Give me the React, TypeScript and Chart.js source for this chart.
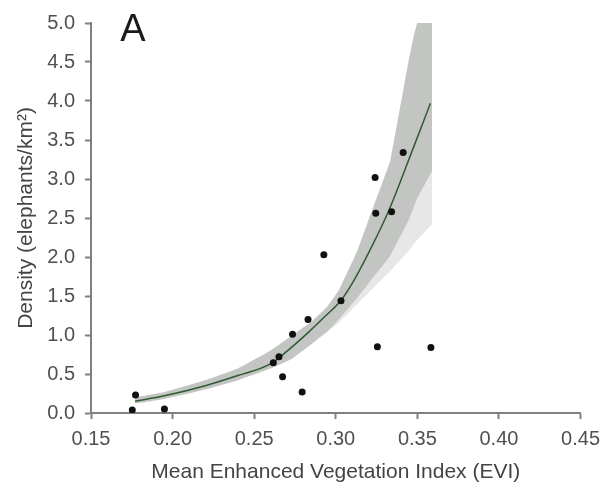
import React, { useEffect, useRef } from "react";
import { Chart, registerables } from "chart.js";

Chart.register(...registerables);

const X_TICKS = [0.15, 0.2, 0.25, 0.3, 0.35, 0.4, 0.45];
const Y_TICKS = [0, 0.5, 1, 1.5, 2, 2.5, 3, 3.5, 4, 4.5, 5];

const OBS_EVI = [0.1753, 0.1773, 0.195, 0.2617, 0.2652, 0.2674, 0.2735, 0.2794, 0.283, 0.2927, 0.3032, 0.3255, 0.3583, 0.3413, 0.3241, 0.3245, 0.3342];
const OBS_DENSITY = [0.04, 0.23, 0.05, 0.645, 0.72, 0.465, 1.01, 0.27, 1.2, 2.03, 1.44, 0.85, 0.84, 3.34, 3.02, 2.56, 2.58];

const FIT_EVI = [0.177, 0.195, 0.22, 0.24, 0.26, 0.27, 0.283, 0.293, 0.303, 0.31, 0.3205, 0.3326, 0.347, 0.358];
const FIT_DENSITY = [0.15, 0.22, 0.35, 0.48, 0.63, 0.79, 1.03, 1.23, 1.44, 1.66, 2.07, 2.6, 3.37, 3.97];

const BAND_EVI = [0.177, 0.195, 0.22, 0.24, 0.26, 0.2735, 0.285, 0.295, 0.302, 0.3134, 0.3205, 0.3285, 0.3335, 0.3447, 0.35, 0.359];
const BAND_UPPER = [0.2, 0.27, 0.42, 0.57, 0.8, 1.0, 1.17, 1.37, 1.58, 2.09, 2.5, 2.95, 3.24, 4.52, 5.0, 5.0];
const BAND_LOWER = [0.12, 0.18, 0.3, 0.42, 0.57, 0.7, 0.88, 1.05, 1.2, 1.48, 1.67, 1.88, 2.02, 2.47, 2.75, 3.1];
const FAN_LOWER = [0.12, 0.18, 0.3, 0.42, 0.57, 0.7, 0.88, 1.04, 1.16, 1.4, 1.55, 1.72, 1.82, 2.08, 2.22, 2.42];

const toXY = (xs: number[], ys: number[]) => xs.map((x, i) => ({ x, y: ys[i] }));

const AXIS_COLOR = "#808080";
const TICK_COLOR = "#505050";
const FONT = "'Liberation Sans', Arial, sans-serif";

const panelLabel = {
  id: "panelLabel",
  afterDraw(chart: any) {
    const { ctx, chartArea } = chart;
    ctx.save();
    ctx.font = `38px ${FONT}`;
    ctx.fillStyle = "#1a1a1a";
    ctx.textAlign = "center";
    ctx.textBaseline = "middle";
    ctx.fillText("A", chartArea.left + 42, chartArea.top + 8);
    ctx.restore();
  },
};

export default function App() {
  const ref = useRef<HTMLCanvasElement | null>(null);
  useEffect(() => {
    if (!ref.current) return;
    const chart = new Chart(ref.current, {
      type: "scatter",
      data: {
        datasets: [
          {
            data: toXY(BAND_EVI, BAND_UPPER),
            showLine: true,
            borderWidth: 0,
            borderColor: "rgba(0,0,0,0)",
            pointRadius: 0,
            fill: 1,
            backgroundColor: "#c3c5c3",
            tension: 0.1,
            order: 4,
          },
          {
            data: toXY(BAND_EVI, BAND_LOWER),
            showLine: true,
            borderWidth: 0,
            borderColor: "rgba(0,0,0,0)",
            pointRadius: 0,
            fill: 2,
            backgroundColor: "#e6e7e6",
            tension: 0.1,
            order: 5,
          },
          {
            data: toXY(BAND_EVI, FAN_LOWER),
            showLine: true,
            borderWidth: 0,
            borderColor: "rgba(0,0,0,0)",
            pointRadius: 0,
            fill: false,
            tension: 0.1,
            order: 6,
          },
          {
            data: toXY(FIT_EVI, FIT_DENSITY),
            showLine: true,
            borderWidth: 1.5,
            borderColor: "#2f5a32",
            pointRadius: 0,
            fill: false,
            cubicInterpolationMode: "monotone",
            order: 2,
          },
          {
            data: toXY(OBS_EVI, OBS_DENSITY),
            showLine: false,
            pointRadius: 3.5,
            pointBackgroundColor: "#111111",
            pointBorderWidth: 0,
            borderColor: "#111111",
            order: 1,
          },
        ],
      },
      options: {
        animation: false,
        responsive: true,
        maintainAspectRatio: false,
        layout: { padding: { top: 23, right: 23, left: 0, bottom: 0 } },
        plugins: {
          legend: { display: false },
          tooltip: { enabled: false },
        },
        scales: {
          x: {
            type: "linear",
            min: 0.15,
            max: 0.45,
            afterBuildTicks: (scale: any) => {
              scale.ticks = X_TICKS.map((v) => ({ value: v }));
            },
            afterFit: (scale: any) => {
              scale.height = 78;
            },
            grid: {
              drawOnChartArea: false,
              drawTicks: true,
              tickLength: 6,
              tickWidth: 2,
              tickColor: AXIS_COLOR,
            },
            border: { display: true, color: AXIS_COLOR, width: 2 },
            ticks: {
              color: TICK_COLOR,
              font: { family: FONT, size: 20 },
              padding: 8,
              maxRotation: 0,
              autoSkip: false,
              callback: (v: any) => Number(v).toFixed(2),
            },
            title: {
              display: true,
              text: "Mean Enhanced Vegetation Index (EVI)",
              color: "#444444",
              font: { family: FONT, size: 21 },
              padding: { top: 0, bottom: 6 },
            },
          },
          y: {
            type: "linear",
            min: 0,
            max: 5,
            afterBuildTicks: (scale: any) => {
              scale.ticks = Y_TICKS.map((v) => ({ value: v }));
            },
            afterFit: (scale: any) => {
              scale.width = 91;
            },
            grid: {
              drawOnChartArea: false,
              drawTicks: true,
              tickLength: 6,
              tickWidth: 2,
              tickColor: AXIS_COLOR,
            },
            border: { display: true, color: AXIS_COLOR, width: 2 },
            ticks: {
              color: TICK_COLOR,
              font: { family: FONT, size: 20 },
              padding: 10,
              autoSkip: false,
              callback: (v: any) => Number(v).toFixed(1),
            },
            title: {
              display: true,
              text: "Density (elephants/km²)",
              color: "#444444",
              font: { family: FONT, size: 21 },
              padding: { top: 14, bottom: 0 },
            },
          },
        },
      },
      plugins: [panelLabel],
    });
    return () => chart.destroy();
  }, []);

  return (
    <div style={{ position: "fixed", left: 0, top: 0, width: 608, height: 491, background: "#fff" }}>
      <canvas ref={ref} />
    </div>
  );
}
